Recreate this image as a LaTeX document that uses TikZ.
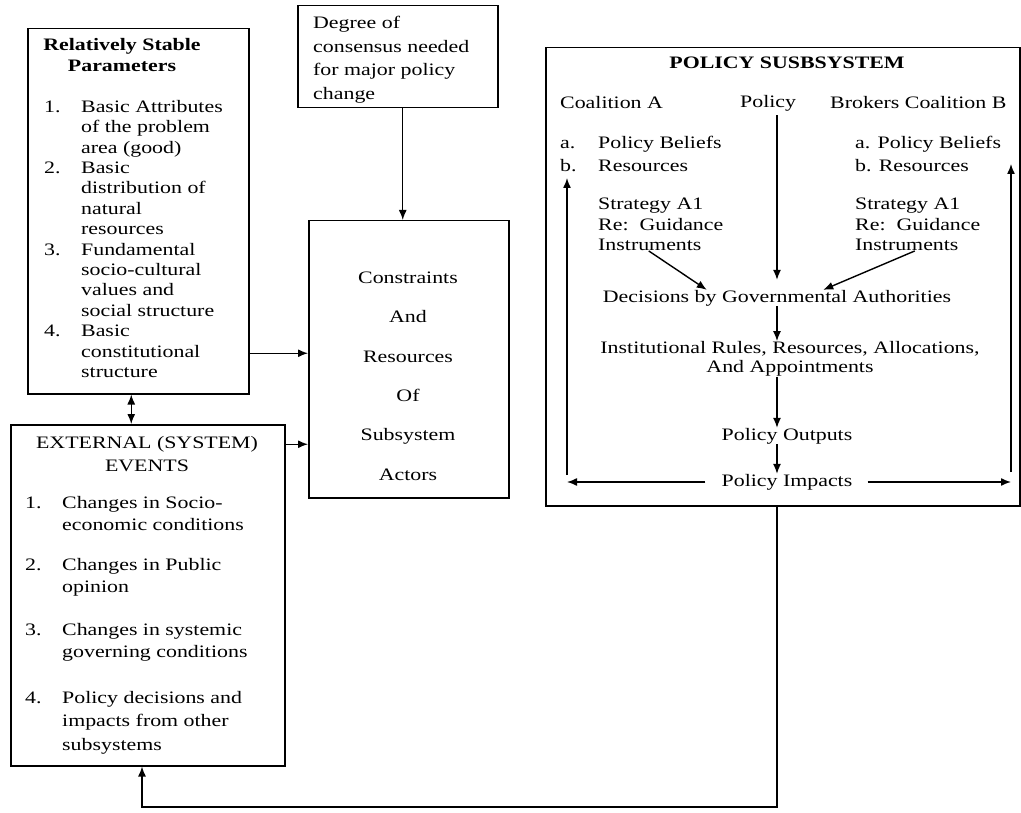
\documentclass[tikz,border=0pt]{standalone}
\usepackage{fontspec}
\setmainfont{Liberation Serif}[FakeStretch=1.25]
\usetikzlibrary{arrows.meta}

\tikzset{
  box/.style={draw, line width=1.5pt, inner sep=0pt, anchor=north west},
  txt/.style={inner sep=0pt, font=\fontsize{17.5}{20.4}\selectfont},
  arr/.style={-{Latex[length=10pt,width=8pt]}, line width=1.4pt},
}
\newcommand{\numit}[1]{\makebox[37pt][l]{#1}}

\begin{document}
\begin{tikzpicture}[x=1pt, y=-1pt]
  \useasboundingbox (0,0) rectangle (1021,813);

  % boxes
  \node[box, minimum width=221pt, minimum height=365pt] (params) at (27,28) {};
  \node[box, minimum width=200pt, minimum height=102pt] (degree) at (297,5) {};
  \node[box, minimum width=200pt, minimum height=277pt] (cons) at (308,220) {};
  \node[box, minimum width=474pt, minimum height=458pt] (policy) at (545,47) {};
  \node[box, minimum width=274pt, minimum height=341pt] (external) at (10,424) {};

  % left column
  \node[txt, align=center, anchor=north, font={\fontsize{17.5}{21}\selectfont\bfseries}] (parTitle) at (122,38) {Relatively Stable\\Parameters};
  \node[txt, align=left, anchor=north west] (parItems) at (44,100) {%
    \numit{1.}Basic Attributes\\ \numit{}of the problem\\ \numit{}area (good)\\
    \numit{2.}Basic\\ \numit{}distribution of\\ \numit{}natural\\ \numit{}resources\\
    \numit{3.}Fundamental\\ \numit{}socio-cultural\\ \numit{}values and\\ \numit{}social structure\\
    \numit{4.}Basic\\ \numit{}constitutional\\ \numit{}structure};

  \node[txt, align=left, anchor=north west, font=\fontsize{17.5}{23.7}\selectfont] (degTxt) at (313,16) {Degree of\\consensus needed\\for major policy\\change};

  \node[txt, align=center, font=\fontsize{17.5}{39.4}\selectfont] (consTxt) at (408,376) {Constraints\\And\\Resources\\Of\\Subsystem\\Actors};

  \node[txt, align=center, anchor=north, font=\fontsize{17.5}{23}\selectfont] (extTitle) at (147,436) {EXTERNAL (SYSTEM)\\EVENTS};
  \node[txt, align=left, anchor=north west, font=\fontsize{17.5}{22.5}\selectfont] (ext1) at (25,496) {\numit{1.}Changes in Socio-\\ \numit{}economic conditions};
  \node[txt, align=left, anchor=north west, font=\fontsize{17.5}{22.5}\selectfont] (ext2) at (25,558) {\numit{2.}Changes in Public\\ \numit{}opinion};
  \node[txt, align=left, anchor=north west, font=\fontsize{17.5}{22.5}\selectfont] (ext3) at (25,623) {\numit{3.}Changes in systemic\\ \numit{}governing conditions};
  \node[txt, align=left, anchor=north west, font=\fontsize{17.5}{23.5}\selectfont] (ext4) at (25,691) {\numit{4.}Policy decisions and\\ \numit{}impacts from other\\ \numit{}subsystems};

  % policy subsystem
  \node[txt, font={\fontsize{17.5}{21}\selectfont\bfseries}] (polTitle) at (787,63) {POLICY SUSBSYSTEM};
  \node[txt, anchor=west] (coalA) at (560,103) {Coalition A};
  \node[txt, anchor=west] (polLbl) at (740,103) {Policy};
  \node[txt, anchor=west] (coalB) at (830,103) {Brokers Coalition B};
  \node[txt, align=left, anchor=north west, font=\fontsize{17.5}{23}\selectfont] (resA) at (560,136) {\makebox[38pt][l]{a.}Policy Beliefs\\\makebox[38pt][l]{b.}Resources};
  \node[txt, align=left, anchor=north west, font=\fontsize{17.5}{23}\selectfont] (resB) at (855,136) {a. Policy Beliefs\\b. Resources};
  \node[txt, align=left, anchor=north west] (stratA) at (598,198) {Strategy A1\\Re:\ \ Guidance\\Instruments};
  \node[txt, align=left, anchor=north west] (stratB) at (855,198) {Strategy A1\\Re:\ \ Guidance\\Instruments};
  \node[txt] (decide) at (777,298) {Decisions by Governmental Authorities};
  \node[txt, align=center, font=\fontsize{17.5}{19.5}\selectfont] (rules) at (790,359) {Institutional Rules, Resources, Allocations,\\And Appointments};
  \node[txt] (outputs) at (787,436) {Policy Outputs};
  \node[txt] (impacts) at (787,482) {Policy Impacts};

  \coordinate (loopL) at (567,482);
  \coordinate (tipL) at (567,178);
  \coordinate (loopR) at (1011,482);
  \coordinate (tipR) at (1011,164);
  \coordinate (fbk) at (142,807);

  % connectors
  \draw[arr] ([yshift=-142pt]params.east) -- ([yshift=-142pt]params.east -| cons.west);
  \draw[arr] ([yshift=151pt]external.east) -- ([yshift=151pt]external.east -| cons.west);
  \draw[arr] ([xshift=5pt]degree.south) -- ([xshift=5pt]degree.south |- cons.north);
  \draw[{Latex[length=10pt,width=8pt]}-{Latex[length=10pt,width=8pt]}, line width=1.4pt] ([xshift=-7pt]params.south) -- ([xshift=-7pt]params.south |- external.north);

  \draw[arr, shorten <=4pt, shorten >=10pt] (polLbl.south -| decide.north) -- (decide.north);
  \draw[arr] ([xshift=-12pt]stratA.south) -- ([xshift=104pt]decide.north west);
  \draw[arr] ([xshift=-3pt]stratB.south) -- ([xshift=-128pt]decide.north east);
  \draw[arr] (decide.south) -- (decide.south |- rules.north);
  \draw[arr] (decide.south |- rules.south) -- (decide.south |- outputs.north);
  \draw[arr] (decide.south |- outputs.south) -- (decide.south |- impacts.north);
  \draw[arr] ([xshift=-16pt]impacts.west) -- (loopL);
  \draw[arr] ([xshift=15pt]impacts.east) -- (loopR);
  \draw[arr] ([yshift=7pt]loopL) -- (tipL);
  \draw[arr] ([yshift=10pt]loopR) -- (tipR);

  \draw[arr] (decide.south |- policy.south) |- (fbk) -- (fbk |- external.south);
\end{tikzpicture}
\end{document}
